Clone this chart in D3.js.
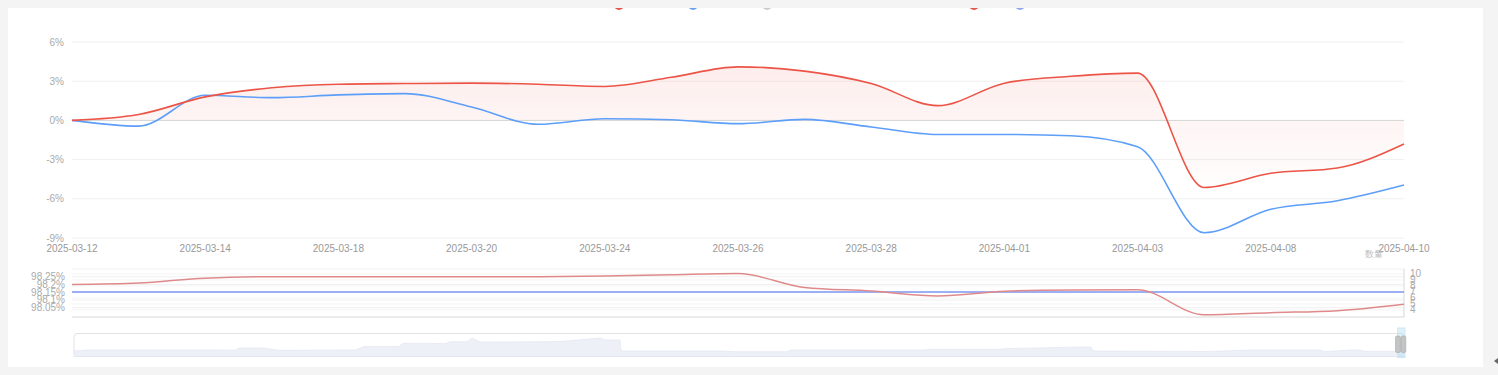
<!DOCTYPE html>
<html>
<head>
<meta charset="utf-8">
<script src="https://cdn.jsdelivr.net/npm/d3@7/dist/d3.min.js"></script>
<style>
  body { margin: 0; background: #f4f4f4; }
  text { font-family: "Liberation Sans", Arial, sans-serif; }
</style>
</head>
<body>
<div id="chart"></div>
<script>
// trading days shown in the window
var dates = ["2025-03-12","2025-03-13","2025-03-14","2025-03-17","2025-03-18","2025-03-19","2025-03-20",
  "2025-03-21","2025-03-24","2025-03-25","2025-03-26","2025-03-27","2025-03-28","2025-03-31",
  "2025-04-01","2025-04-02","2025-04-03","2025-04-07","2025-04-08","2025-04-09","2025-04-10"];

// cumulative return (%), upper chart
var redReturn = [0, 0.45, 1.8, 2.5, 2.77, 2.82, 2.85, 2.77, 2.6, 3.3, 4.1, 3.77, 2.82, 1.13,
  2.85, 3.38, 3.62, -5.13, -4.05, -3.64, -1.8];
var blueReturn = [0, -0.44, 1.92, 1.74, 1.95, 2.05, 1.02, -0.3, 0.13, 0.05, -0.25, 0.08, -0.5, -1.08,
  -1.08, -1.18, -2.02, -8.6, -6.8, -6.15, -4.95];

// lower chart: ratio (%) on left axis, quantity on right axis
var ratio = [98.2, 98.209, 98.241, 98.25, 98.25, 98.25, 98.25, 98.25, 98.254, 98.263, 98.271,
  98.181, 98.158, 98.126, 98.156, 98.165, 98.166, 98.004, 98.018, 98.031, 98.073];
var quantity = [7, 7, 7, 7, 7, 7, 7, 7, 7, 7, 7, 7, 7, 7, 7, 7, 7, 7, 7, 7, 7];

var yTicks = [-9, -6, -3, 0, 3, 6];
var ratioTicks = [98.05, 98.1, 98.15, 98.2, 98.25];
var qtyTicks = [4, 5, 6, 7, 8, 9, 10];

// data zoom shadow over the whole history (sample index, level)
var shadowIdx = [0, 13, 137, 161, 165, 189, 205, 281, 290, 325, 329, 372, 376, 393, 398, 406, 420, 486,
  526, 531, 546, 547, 646, 661, 713, 717, 852, 854, 925, 930, 973, 1008, 1017, 1019, 1134, 1177,
  1246, 1251, 1277, 1286, 1290, 1330];
var shadowVal = [5.5, 6.5, 6.5, 6.3, 8.5, 8.5, 6.2, 6.5, 9.9, 9.9, 13.2, 13, 14.8, 14.8, 18.5, 14.5,
  14.5, 15, 18.5, 16.5, 16.5, 5.5, 5.5, 4.8, 4.8, 6.5, 6.5, 7.2, 7.2, 7.8, 8.8, 9.5, 9.5, 5.5, 5,
  6.5, 6.5, 4.8, 6.5, 6.5, 5.2, 5.2];

var legendColors = ["#e8544a", "#6a9ff5", "#cccccc", "#e8544a", "#8fa6f2"];

var W = 1498, H = 375;
var left = 72, right = 1404;
var red = "#eb5446", blue = "#5d9ef9";

var svg = d3.select("#chart").append("svg").attr("width", W).attr("height", H);

svg.append("rect").attr("width", W).attr("height", H).attr("fill", "#f4f4f4");
svg.append("rect").attr("x", 8).attr("y", 8).attr("width", 1475).attr("height", 359).attr("fill", "#fff");

// legend icons (mostly scrolled out of view)
var legendX = [619, 693, 767, 974, 1020];
svg.selectAll(".leg").data(legendColors).enter().append("circle")
  .attr("cx", (d, i) => legendX[i]).attr("cy", 5).attr("r", 5).attr("fill", d => d);
svg.append("rect").attr("width", W).attr("height", 8).attr("fill", "#f4f4f4");

// scales
var x = d3.scalePoint().domain(dates).range([left, right]);
var y = d3.scaleLinear().domain([-9, 6]).range([238, 42]);

var g = svg.append("g");

// grid lines
g.selectAll(".grid").data(yTicks.filter(d => d !== 0)).enter().append("line")
  .attr("x1", left).attr("x2", right)
  .attr("y1", d => y(d)).attr("y2", d => y(d))
  .attr("stroke", "#f0f0f0");

g.selectAll(".ylab").data(yTicks).enter().append("text")
  .attr("x", 64).attr("y", d => y(d) + 3.5)
  .attr("text-anchor", "end").attr("font-size", 10).attr("fill", "#aaa")
  .text(d => d + "%");

// area under red line
var defs = svg.append("defs");
var grad = defs.append("linearGradient").attr("id", "redFill")
  .attr("x1", 0).attr("y1", 0).attr("x2", 0).attr("y2", 1);
grad.append("stop").attr("offset", 0).attr("stop-color", red).attr("stop-opacity", 0.1);
grad.append("stop").attr("offset", 1).attr("stop-color", red).attr("stop-opacity", 0.01);

var area = d3.area()
  .x((d, i) => x(dates[i]))
  .y0(y(0)).y1(d => y(d))
  .curve(d3.curveMonotoneX);
g.append("path").datum(redReturn).attr("d", area).attr("fill", "url(#redFill)");

// zero axis line
g.append("line").attr("x1", left).attr("x2", right)
  .attr("y1", y(0)).attr("y2", y(0)).attr("stroke", "#d4d4d4");

var line = d3.line()
  .x((d, i) => x(dates[i]))
  .y(d => y(d))
  .curve(d3.curveMonotoneX);

g.append("path").datum(blueReturn).attr("d", line)
  .attr("fill", "none").attr("stroke", blue).attr("stroke-width", 1.6);
g.append("path").datum(redReturn).attr("d", line)
  .attr("fill", "none").attr("stroke", red).attr("stroke-width", 1.6);

// x labels every second day
g.selectAll(".xlab").data(dates.filter((d, i) => i % 2 === 0)).enter().append("text")
  .attr("x", d => x(d)).attr("y", 252)
  .attr("text-anchor", "middle").attr("font-size", 10).attr("fill", "#999")
  .text(d => d);

// lower chart
var top2 = 269, bot2 = 317;
var y2 = d3.scaleLinear().domain([97.99, 98.3]).range([bot2, top2]);
var y3 = d3.scaleLinear().domain([2.83, 10.83]).range([bot2, top2]);

var lg = svg.append("g");
lg.selectAll(".g2").data(ratioTicks.concat([98.3])).enter().append("line")
  .attr("x1", left).attr("x2", right)
  .attr("y1", d => y2(d)).attr("y2", d => y2(d)).attr("stroke", "#f0f0f0");
lg.selectAll(".g3").data(qtyTicks).enter().append("line")
  .attr("x1", left).attr("x2", right)
  .attr("y1", d => y3(d)).attr("y2", d => y3(d)).attr("stroke", "#f4f4f4");

lg.append("line").attr("x1", left).attr("x2", right)
  .attr("y1", bot2).attr("y2", bot2).attr("stroke", "#d8d8d8");
lg.append("line").attr("x1", right).attr("x2", right)
  .attr("y1", top2).attr("y2", bot2).attr("stroke", "#d8d8d8");

lg.selectAll(".rl").data(ratioTicks).enter().append("text")
  .attr("x", 65).attr("y", d => y2(d) + 3.5)
  .attr("text-anchor", "end").attr("font-size", 10).attr("fill", "#aaa")
  .text(d => d + "%");
lg.selectAll(".ql").data(qtyTicks).enter().append("text")
  .attr("x", 1410).attr("y", d => y3(d) + 3.5)
  .attr("font-size", 10).attr("fill", "#aaa")
  .text(d => d);
lg.append("text").attr("x", 1374).attr("y", 257).attr("text-anchor", "middle")
  .attr("font-size", 9).attr("fill", "#bbb").text("数量");

var line2 = d3.line().x((d, i) => x(dates[i])).y(d => y2(d)).curve(d3.curveMonotoneX);
var line3 = d3.line().x((d, i) => x(dates[i])).y(d => y3(d)).curve(d3.curveMonotoneX);
lg.append("path").datum(quantity).attr("d", line3)
  .attr("fill", "none").attr("stroke", "#7f99f3").attr("stroke-width", 1.5);
lg.append("path").datum(ratio).attr("d", line2)
  .attr("fill", "none").attr("stroke", "#df8a8a").attr("stroke-width", 1.5);

// data zoom slider
var sTop = 333.5, sBot = 356.5, sL = 74;
var sx = d3.scaleLinear().domain([0, 1330]).range([sL, right]);
var sy = d3.scaleLinear().domain([0, 23]).range([sBot, sTop]);
svg.append("rect").attr("x", sL).attr("y", sTop).attr("width", right - sL).attr("height", sBot - sTop)
  .attr("rx", 3).attr("fill", "none").attr("stroke", "#e2e2e2");
var sArea = d3.area().x((d, i) => sx(shadowIdx[i])).y0(sBot).y1(d => sy(d));
svg.append("path").datum(shadowVal).attr("d", sArea)
  .attr("fill", "#eef0f8").attr("stroke", "#dfe3f0").attr("stroke-width", 0.6);

// selected window handle at the right end
svg.append("rect").attr("x", 1397.5).attr("y", 328).attr("width", 7.5).attr("height", 29.5)
  .attr("fill", "rgba(160,215,240,0.35)").attr("stroke", "#cfe6f3");
svg.selectAll(".hd").data([1395.5, 1401]).enter().append("rect")
  .attr("x", d => d).attr("y", 336).attr("width", 4.8).attr("height", 16.5).attr("rx", 1.5)
  .attr("fill", "#c4c4c4").attr("stroke", "#a9a9a9").attr("stroke-width", 0.6);

// small arrow at the right edge
svg.append("path").attr("d", "M1494,361 L1498,358 L1498,364 Z").attr("fill", "#666");
</script>
</body>
</html>
